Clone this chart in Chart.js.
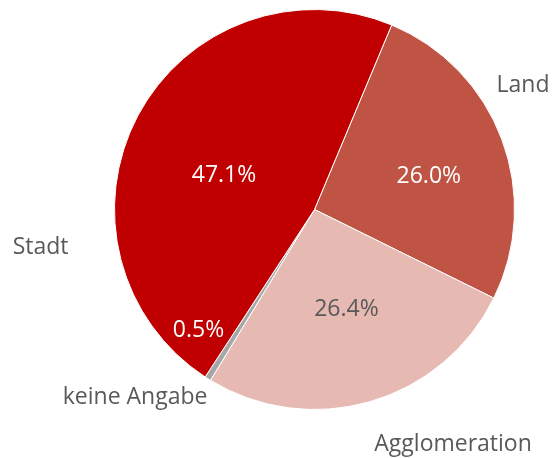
<!DOCTYPE html>
<html>
<head>
<meta charset="utf-8">
<script src="https://cdn.jsdelivr.net/npm/chart.js@4/dist/chart.umd.min.js"></script>
<style>
html,body{margin:0;padding:0;background:#fff;}
#wrap{width:554px;height:458px;position:relative;}
</style>
</head>
<body>
<div id="wrap"><canvas id="c" width="554" height="458"></canvas></div>
<script>
// Data
const categories = ['Land', 'Agglomeration', 'keine Angabe', 'Stadt'];
const shares = [26.0, 26.4, 0.5, 47.1];
const percentLabels = ['26.0%', '26.4%', '0.5%', '47.1%'];

// Styling (not data)
const sliceColors = ['#C05444', '#E6B9B3', '#A6A6A6', '#C00000'];
const innerTextColors = ['#FFFFFF', '#595959', '#FFFFFF', '#FFFFFF'];
// label placement in polar form: [angle deg clockwise from top, radius factor]
const innerPos = [[72.9, 0.598], [161.95, 0.516], [224.2, 0.832], [291.7, 0.487]];
const outerPos = [[58.85, 1.218], [149.3, 1.357], [223.85, 1.295], [262.35, 1.382]];

const FONT = '23px "Open Sans", sans-serif';
const CAP_HALF = 8.2;

const labelPlugin = {
  id: 'pieLabels',
  afterDatasetsDraw(chart) {
    const ctx = chart.ctx;
    const arc = chart.getDatasetMeta(0).data[0];
    const cx = arc.x, cy = arc.y, R = arc.outerRadius;
    ctx.save();
    ctx.font = FONT;
    ctx.textAlign = 'center';
    ctx.textBaseline = 'alphabetic';
    const place = (p) => {
      const a = p[0] * Math.PI / 180;
      return [cx + Math.sin(a) * R * p[1], cy - Math.cos(a) * R * p[1] + CAP_HALF];
    };
    categories.forEach((cat, i) => {
      let [x, y] = place(innerPos[i]);
      ctx.fillStyle = innerTextColors[i];
      ctx.fillText(percentLabels[i], x, y);
      [x, y] = place(outerPos[i]);
      ctx.fillStyle = '#595959';
      ctx.fillText(cat, x, y);
    });
    ctx.restore();
  }
};

new Chart(document.getElementById('c'), {
  type: 'pie',
  data: {
    labels: categories,
    datasets: [{
      data: shares,
      backgroundColor: sliceColors,
      borderColor: '#FFFFFF',
      borderWidth: 1
    }]
  },
  options: {
    responsive: false,
    animation: false,
    rotation: 22.7,
    layout: { padding: { left: 114, right: 39, top: 9, bottom: 48 } },
    plugins: { legend: { display: false }, tooltip: { enabled: false } }
  },
  plugins: [labelPlugin]
});
</script>
</body>
</html>
